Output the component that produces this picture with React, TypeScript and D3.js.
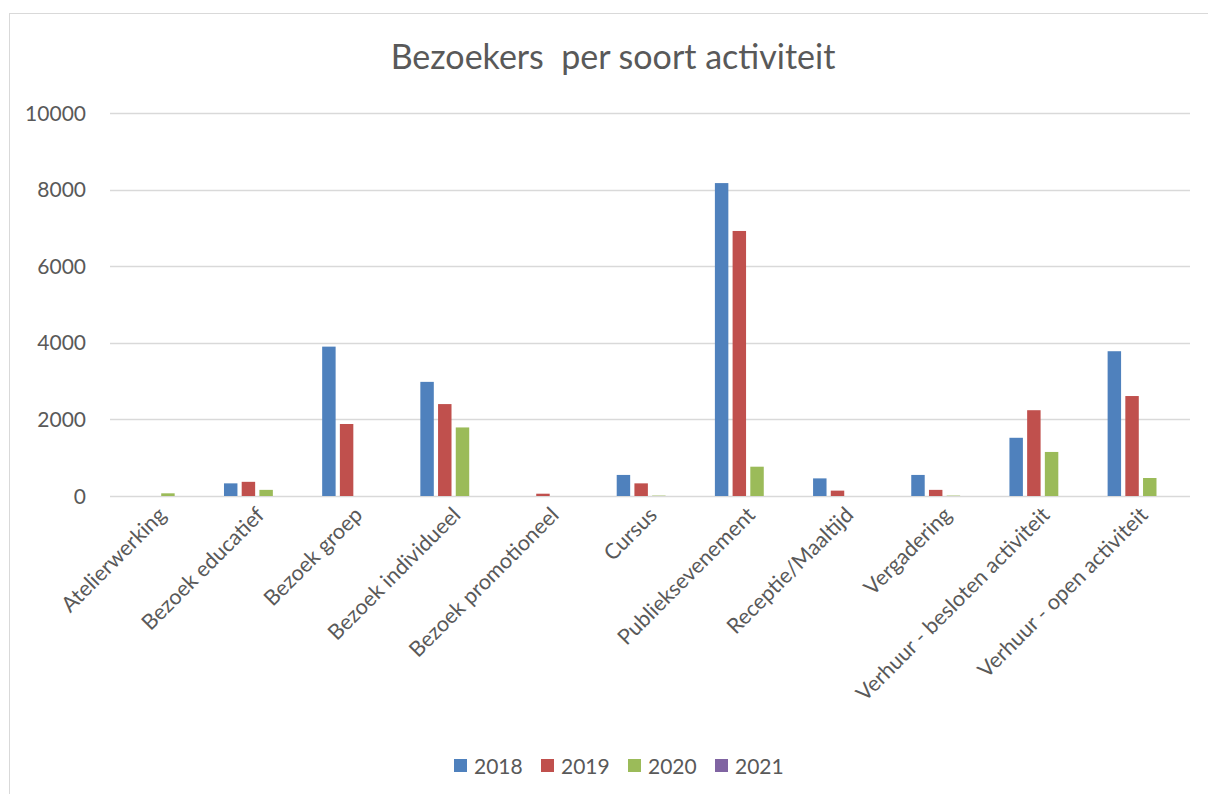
import React, { useEffect, useRef } from 'react';
import * as d3 from 'd3';

const categories = [
  'Atelierwerking',
  'Bezoek educatief',
  'Bezoek groep',
  'Bezoek individueel',
  'Bezoek promotioneel',
  'Cursus',
  'Publieksevenement',
  'Receptie/Maaltijd',
  'Vergadering',
  'Verhuur - besloten activiteit',
  'Verhuur - open activiteit'
];
const years = ['2018', '2019', '2020', '2021'];
const values2018 = [0, 330, 3900, 2980, 0, 550, 8170, 460, 550, 1520, 3780];
const values2019 = [0, 370, 1880, 2400, 60, 330, 6920, 140, 160, 2240, 2610];
const values2020 = [70, 160, 0, 1790, 0, 10, 765, 0, 10, 1150, 470];
const values2021 = [0, 0, 0, 0, 0, 0, 0, 0, 0, 0, 0];
const yTicks = [0, 2000, 4000, 6000, 8000, 10000];
const colors = ['#4f81bd', '#c0504d', '#9bbb59', '#8064a2'];

const App = () => {
  const width = 1208;
  const height = 794;
  const margin = { top: 113, right: 18, bottom: 298, left: 110 };
  const svgRef = useRef<SVGSVGElement | null>(null);

  useEffect(() => {
    const svg = d3.select(svgRef.current);
    svg.selectAll('*').remove();

    const font = 'Lato, "Open Sans", sans-serif';
    const textColor = '#595959';
    const series = [values2018, values2019, values2020, values2021];

    // chart border (only left/top visible in the frame)
    svg.append('rect')
      .attr('x', 9.5).attr('y', 13.5)
      .attr('width', width + 20).attr('height', height + 20)
      .attr('fill', 'white').attr('stroke', '#d9d9d9').attr('stroke-width', 1);

    const x0 = d3.scaleBand<string>()
      .domain(categories)
      .range([margin.left, width - margin.right])
      .paddingInner(0).paddingOuter(0);
    const step = x0.bandwidth();
    const x1 = d3.scaleBand<string>()
      .domain(years)
      .range([15.8, step - 15.8])
      .paddingInner(0.24).paddingOuter(0);
    const y = d3.scaleLinear()
      .domain([0, 10000])
      .range([height - margin.bottom, margin.top]);

    // title
    svg.append('text')
      .attr('x', 613).attr('y', 69)
      .attr('text-anchor', 'middle')
      .attr('font-family', font).attr('font-size', 34)
      .attr('fill', textColor)
      .style('white-space', 'pre')
      .text('Bezoekers  per soort activiteit');

    // gridlines
    svg.append('g').selectAll('line')
      .data(yTicks)
      .enter().append('line')
      .attr('x1', margin.left).attr('x2', width - margin.right)
      .attr('y1', d => Math.round(y(d)) + 0.5).attr('y2', d => Math.round(y(d)) + 0.5)
      .attr('stroke', '#d9d9d9').attr('stroke-width', 1.5);

    // y tick labels
    svg.append('g').selectAll('text')
      .data(yTicks)
      .enter().append('text')
      .attr('x', 86).attr('y', d => y(d))
      .attr('dy', '0.36em')
      .attr('text-anchor', 'end')
      .attr('font-family', font).attr('font-size', 21)
      .attr('fill', textColor)
      .text(d => String(d));

    // bars
    const groups = svg.append('g').selectAll('g')
      .data(categories)
      .enter().append('g')
      .attr('transform', d => `translate(${x0(d)},0)`);
    groups.selectAll('rect')
      .data((_, i) => years.map((yr, s) => ({ yr, v: series[s][i], s })))
      .enter().append('rect')
      .attr('x', d => x1(d.yr) as number)
      .attr('width', x1.bandwidth())
      .attr('y', d => y(d.v))
      .attr('height', d => y(0) - y(d.v))
      .attr('fill', d => colors[d.s]);

    // category labels, rotated
    svg.append('g').selectAll('text')
      .data(categories)
      .enter().append('text')
      .attr('transform', d => `translate(${(x0(d) as number) + step / 2 + 3},${y(0) + 15}) rotate(-45)`)
      .attr('text-anchor', 'end')
      .attr('dy', '0.35em')
      .attr('font-family', font).attr('font-size', 21.5)
      .attr('fill', textColor)
      .text(d => d);

    // legend
    const legend = svg.append('g').selectAll('g')
      .data(years)
      .enter().append('g')
      .attr('transform', (_, i) => `translate(${454 + i * 87},766)`);
    legend.append('rect')
      .attr('x', 0).attr('y', -7)
      .attr('width', 13).attr('height', 13)
      .attr('fill', (_, i) => colors[i]);
    legend.append('text')
      .attr('x', 20).attr('y', 0)
      .attr('dy', '0.36em')
      .attr('font-family', font).attr('font-size', 21)
      .attr('fill', textColor)
      .text(d => d);
  }, []);

  return (
    <svg
      ref={svgRef}
      width={width}
      height={height}
      style={{ position: 'absolute', left: 0, top: 0, display: 'block' }}
    ></svg>
  );
};

export default App;
